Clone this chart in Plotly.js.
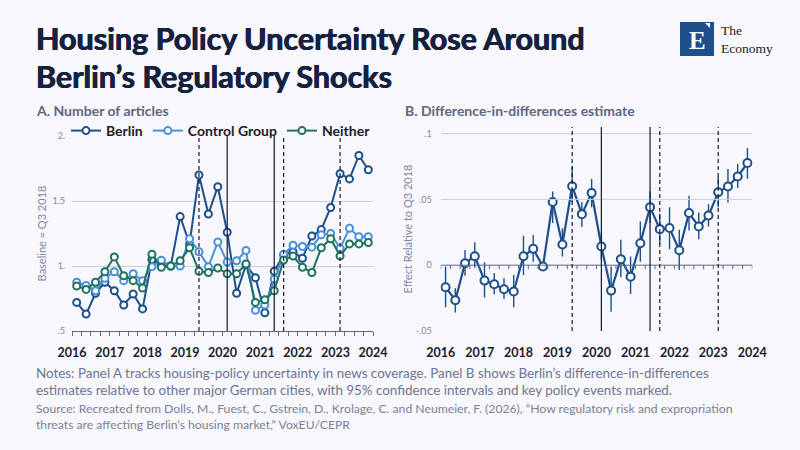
<!DOCTYPE html>
<html>
<head>
<meta charset="utf-8">
<script src="https://cdn.plot.ly/plotly-3.0.1.min.js"></script>
<style>
  html, body { margin: 0; padding: 0; background: #f7f7fc; }
  #chart { width: 800px; height: 450px; }
</style>
</head>
<body>
<div id="chart"></div>
<script>
// ---------- DATA ----------
const quarters = [
  "2016Q1","2016Q2","2016Q3","2016Q4","2017Q1","2017Q2","2017Q3","2017Q4",
  "2018Q1","2018Q2","2018Q3","2018Q4","2019Q1","2019Q2","2019Q3","2019Q4",
  "2020Q1","2020Q2","2020Q3","2020Q4","2021Q1","2021Q2","2021Q3","2021Q4",
  "2022Q1","2022Q2","2022Q3","2022Q4","2023Q1","2023Q2","2023Q3","2023Q4"
];
const berlin = [0.72,0.63,0.79,0.875,0.81,0.70,0.785,0.67,
                1.05,1.00,1.00,1.38,1.17,1.70,1.40,1.61,
                1.26,0.79,1.01,0.91,0.64,0.96,1.085,1.11,
                1.06,1.23,1.28,1.45,1.71,1.67,1.85,1.74];
const controlGroup = [0.875,0.85,0.81,0.905,0.956,0.887,0.94,0.887,
                0.995,1.044,1.00,1.00,1.21,1.11,0.995,1.185,
                1.03,1.04,1.12,0.66,0.70,0.90,1.09,1.16,
                1.15,1.145,1.24,1.25,1.136,1.29,1.225,1.225];
const neither = [0.846,0.82,0.875,0.956,1.07,0.925,0.887,0.83,
                1.09,0.99,1.00,1.04,1.14,0.96,0.95,0.985,
                0.94,0.94,1.015,0.72,0.74,0.81,1.046,1.077,
                0.99,0.95,1.14,1.21,1.077,1.17,1.17,1.18];
const didEstimate = [-0.0167,-0.0266,0.0015,0.0068,-0.0117,-0.0145,-0.0183,-0.020,
                0.0068,0.0124,-0.001,0.048,0.0157,0.060,0.0388,0.0548,
                0.0142,-0.0193,0.0046,-0.0087,0.0167,0.0441,0.0274,0.0282,
                0.0114,0.0396,0.0294,0.0377,0.0555,0.0598,0.0674,0.0776];
const ciLower = [-0.032,-0.036,-0.008,-0.002,-0.0246,-0.022,-0.0256,-0.032,
                -0.0074,0.0027,-0.001,0.032,0.0066,0.048,0.029,0.0441,
                0.004,-0.0353,-0.0091,-0.0218,0.0027,0.032,0.016,0.0122,
                -0.0036,0.0263,0.0198,0.0294,0.0441,0.0476,0.0586,0.0657];
const ciUpper = [-0.001,-0.0175,0.0116,0.0175,0.0023,-0.006,-0.0099,-0.0074,
                0.0223,0.023,-0.001,0.056,0.028,0.0746,0.048,0.0654,
                0.025,-0.001,0.0193,0.0066,0.0332,0.056,0.039,0.0441,
                0.0269,0.0527,0.040,0.0464,0.0674,0.073,0.077,0.089];
const yearLabels = ["2016","2017","2018","2019","2020","2021","2022","2023","2024"];
const panelATicks = [".5","1.","1.5","2."];
const panelAVals = [0.5,1,1.5,2];
const panelBTicks = ["-.05","0",".05",".1"];
const panelBVals = [-0.05,0,0.05,0.1];
// policy events (quarter, solid or dashed)
const eventQuarters = ["2019Q2","2020Q1","2021Q2","2021Q3","2023Q1"];
const eventSolid = [false,true,true,false,false];

// ---------- HELPERS ----------
const qx = q => { const y = +q.slice(0,4), n = +q.slice(5); return y + (n - 0.5) / 4; };
const xq = quarters.map(qx);
const yearVals = yearLabels.map(Number);
const xMin = yearVals[0], xMax = yearVals[yearVals.length - 1];
const yRangeB = [-0.05, 0.105];
const fracB = v => (v - yRangeB[0]) / (yRangeB[1] - yRangeB[0]);
// quarter boundaries (tick marks on panel B's zero line)
const qStarts = quarters.map(q => qx(q) - 0.125).concat([xMax]);
const W = 800, H = 450;
const px = v => v / W, py = v => 1 - v / H;
const panelBTop = 127, panelBBottom = 331;
const tickFrac = 4 / (panelBBottom - panelBTop);

const navy = '#1d4f8b', light = '#4a90dc', teal = '#1f7262';
const axisCol = '#5d6887', gridCol = '#c9cee0', tickTxt = '#8088a3';
const FONT = 'Lato, "Noto Sans", sans-serif';

function lineTrace(name, ys, color) {
  return {
    type: 'scatter', mode: 'lines+markers', name: name, x: xq, y: ys,
    xaxis: 'x', yaxis: 'y',
    line: {color: color, width: 2},
    marker: {symbol: 'circle', size: 7, color: '#ffffff', line: {color: color, width: 2}}
  };
}

const traces = [
  lineTrace('Berlin', berlin, navy),
  lineTrace('Control Group', controlGroup, light),
  lineTrace('Neither', neither, teal),
  {
    type: 'scatter', mode: 'lines+markers', name: 'DiD', showlegend: false,
    x: xq, y: didEstimate, xaxis: 'x2', yaxis: 'y2',
    line: {color: navy, width: 2.2},
    marker: {symbol: 'circle', size: 8, color: '#ffffff', line: {color: navy, width: 2}},
    error_y: {
      type: 'data', symmetric: false,
      array: ciUpper.map((u, i) => u - didEstimate[i]),
      arrayminus: didEstimate.map((v, i) => v - ciLower[i]),
      color: navy, thickness: 1.4, width: 0
    }
  }
];

const shapes = [];
// panel B gridlines (positive ticks)
panelBVals.filter(v => v > 0).forEach(v => {
  shapes.push({type: 'line', xref: 'x2', yref: 'y2 domain', x0: xMin, x1: xMax, y0: fracB(v), y1: fracB(v),
    line: {color: gridCol, width: 1}});
});
// panel B zero axis line
shapes.push({type: 'line', xref: 'x2', yref: 'y2 domain', x0: xMin, x1: xMax, y0: fracB(0), y1: fracB(0),
  line: {color: axisCol, width: 1}});
// quarterly tick marks hanging below panel B's zero axis
qStarts.forEach(v => {
  shapes.push({type: 'line', xref: 'x2', yref: 'y2 domain',
    x0: v, x1: v, y0: fracB(0), y1: fracB(0) - tickFrac, line: {color: axisCol, width: 1}});
});
eventQuarters.forEach((q, i) => {
  ['', '2'].forEach(s => {
    shapes.push({
      type: 'line', xref: 'x' + s, yref: 'y' + s + ' domain',
      x0: qx(q), x1: qx(q), y0: 0, y1: 1,
      line: {color: '#141a33', width: 1.2, dash: eventSolid[i] ? 'solid' : '4px,3px'}
    });
  });
});
// logo
shapes.push({type: 'rect', xref: 'paper', yref: 'paper', x0: px(680), x1: px(714), y0: py(56), y1: py(22),
  fillcolor: '#1f4e8c', line: {width: 0}});
shapes.push({type: 'path', xref: 'paper', yref: 'paper',
  path: `M ${px(705)} ${py(23)} L ${px(710)} ${py(23)} L ${px(710)} ${py(28)} Z`,
  fillcolor: '#ffffff', line: {width: 0}});

const ann = (x, y, text, size, color, extra) => Object.assign({
  xref: 'paper', yref: 'paper', x: px(x), y: py(y), xanchor: 'left', yanchor: 'middle',
  text: text, showarrow: false, align: 'left',
  font: {family: FONT, size: size, color: color}
}, extra || {});
const SERIF = '"Liberation Serif", "DejaVu Serif", serif';
const titleFont = {family: FONT, size: 30.5, color: '#16213f', weight: 'bold',
  shadow: '0.45px 0 0 #16213f, -0.45px 0 0 #16213f'};

const annotations = [
  ann(34, 38, 'Housing Policy Uncertainty Rose Around', 30.5, '#16213f', {font: titleFont}),
  ann(34, 76, 'Berlin’s Regulatory Shocks', 30.5, '#16213f', {font: titleFont}),
  ann(34, 110, '<b>A. Number of articles</b>', 14, '#5b6685'),
  ann(403, 110, '<b>B. Difference-in-differences estimate</b>', 14, '#5b6685'),
  ann(34, 373, 'Notes: Panel A tracks housing-policy uncertainty in news coverage. Panel B shows Berlin’s difference-in-differences', 13.4, '#6c7590'),
  ann(34, 390, 'estimates relative to other major German cities, with 95% confidence intervals and key policy events marked.', 13.4, '#6c7590'),
  ann(34, 408, 'Source: Recreated from Dolls, M., Fuest, C., Gstrein, D., Krolage, C. and Neumeier, F. (2026), “How regulatory risk and expropriation', 12.2, '#7a8298'),
  ann(34, 424, 'threats are affecting Berlin’s housing market,” VoxEU/CEPR', 12.2, '#7a8298'),
  ann(697, 40, '<b>E</b>', 24, '#ffffff', {xanchor: 'center', font: {family: SERIF, size: 25, color: '#ffffff'}}),
  ann(719, 39.5, 'The<br>Economy', 13, '#222', {font: {family: SERIF, size: 13.5, color: '#222222'}})
];

const xCommon = {
  range: [xMin, xMax], tickmode: 'array', tickvals: yearVals, ticktext: yearLabels,
  tickfont: {family: FONT, size: 12.5, color: '#1c1c2c', weight: 'bold'},
  showgrid: false, zeroline: false, fixedrange: true,
  ticks: 'outside', ticklen: 4, tickwidth: 1, ticklabelstandoff: 6
};

const layout = {
  width: W, height: H,
  margin: {l: 0, r: 0, t: 0, b: 0, pad: 0},
  paper_bgcolor: '#f7f7fc', plot_bgcolor: '#f7f7fc',
  font: {family: FONT},
  showlegend: true,
  legend: {
    orientation: 'h', x: px(66), y: py(131), xanchor: 'left', yanchor: 'middle',
    font: {family: FONT, size: 14, color: '#1b1b2b', weight: 'bold'},
    bgcolor: 'rgba(0,0,0,0)', itemwidth: 30, tracegroupgap: 0
  },
  xaxis: Object.assign({}, xCommon, {
    domain: [px(72), px(373)], anchor: 'y',
    showline: true, linecolor: axisCol, linewidth: 1, tickcolor: axisCol,
    minor: {dtick: 0.25, tick0: 2016, ticks: 'outside', ticklen: 4, tickcolor: axisCol, tickwidth: 1, showgrid: false}
  }),
  yaxis: {
    domain: [py(331), py(136)], anchor: 'x', range: [0.5, 2.0],
    tickmode: 'array', tickvals: panelAVals, ticktext: panelATicks,
    tickfont: {family: FONT, size: 9, color: tickTxt},
    showgrid: true, gridcolor: gridCol, gridwidth: 1, zeroline: false, showline: false,
    ticks: '', ticklabelstandoff: 6, fixedrange: true,
    title: {text: 'Baseline = Q3 2018', font: {family: FONT, size: 11, color: '#7f88a6'}, standoff: 3}
  },
  xaxis2: Object.assign({}, xCommon, {
    domain: [px(440.7), px(752.3)], anchor: 'y2',
    showline: false, tickcolor: 'rgba(0,0,0,0)'
  }),
  yaxis2: {
    domain: [py(panelBBottom), py(panelBTop)], anchor: 'x2', range: yRangeB,
    tickmode: 'array', tickvals: panelBVals, ticktext: panelBTicks,
    tickfont: {family: FONT, size: 9, color: tickTxt},
    showgrid: false, zeroline: false, showline: false,
    ticks: '', ticklabelstandoff: 8, fixedrange: true,
    title: {text: 'Effect Relative to Q3 2018', font: {family: FONT, size: 11, color: '#7f88a6'}, standoff: 0}
  },
  shapes: shapes,
  annotations: annotations
};

Plotly.newPlot('chart', traces, layout, {displayModeBar: false, staticPlot: true});
</script>
</body>
</html>
